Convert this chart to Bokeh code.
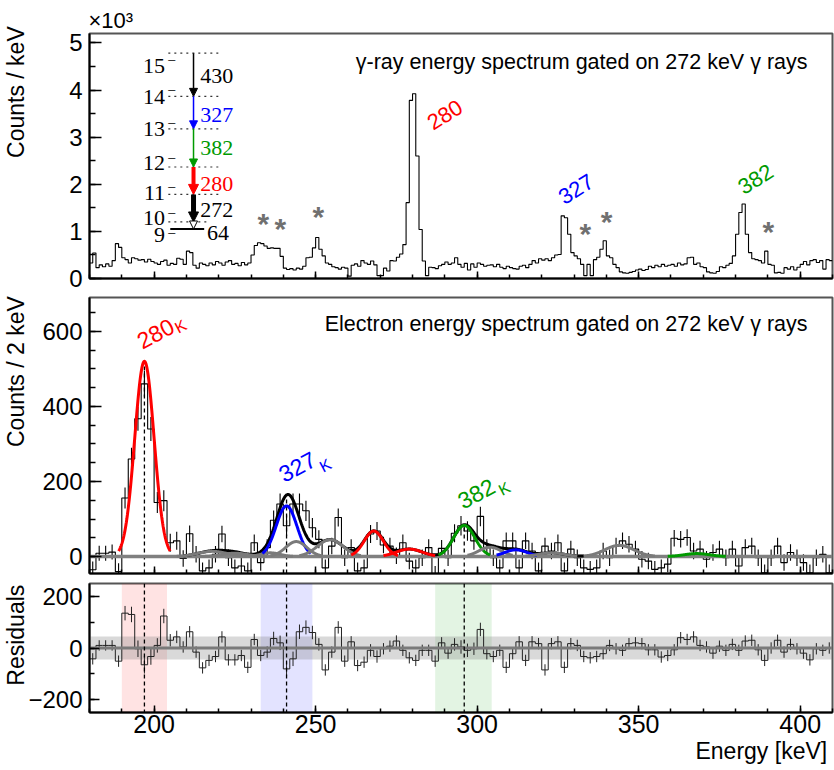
import numpy as np
from bokeh.plotting import figure
from bokeh.layouts import column
from bokeh.models import (Label, Arrow, NormalHead, BoxAnnotation, Range1d, Span,
                          SingleIntervalTicker)
from bokeh.embed import file_html
from bokeh.resources import INLINE

# ---------------------------------------------------------------- data
X_MIN, X_MAX = 180, 410
GAMMA_BIN = 1      # keV per bin, top spectrum
E_BIN = 2          # keV per bin, electron spectrum

# gamma-ray spectrum gated on 272 keV (counts / keV), bins start at 180 keV
gamma_counts = [
    330, 540, 230, 290, 250, 310, 260, 380, 740, 660,
    440, 400, 330, 440, 420, 390, 400, 350, 410, 360,
    330, 300, 360, 390, 280, 320, 300, 430, 410, 300,
    580, 550, 280, 220, 330, 300, 270, 330, 290, 360,
    330, 280, 350, 380, 300, 320, 270, 340, 290, 330,
    500, 700, 760, 740, 690, 640, 650, 640, 640, 470,
    220, 190, 210, 180, 220, 200, 260, 440, 450, 650,
    870, 620, 480, 330, 300, 250, 230, 200, 240, 220,
    50, 280, 310, 260, 380, 330, 300, 370, 290, 60,
    60, 220, 160, 380, 370, 450, 520, 720, 1610, 3780,
    3920, 2600, 1040, 370, 60, 240, 230, 210, 270, 300,
    350, 300, 330, 440, 300, 240, 320, 180, 310, 240,
    330, 300, 260, 280, 290, 250, 300, 240, 210, 260,
    230, 210, 200, 260, 280, 230, 300, 380, 330, 420,
    390, 420, 380, 440, 500, 510, 1330, 1290, 940, 550,
    480, 420, 300, 60, 300, 60, 400, 450, 620, 800,
    480, 440, 300, 230, 140, 120, 110, 130, 150, 180,
    200, 170, 190, 260, 230, 280, 250, 300, 260, 280,
    300, 260, 330, 290, 310, 440, 450, 300, 330, 250,
    230, 140, 120, 110, 150, 250, 230, 280, 320, 480,
    940, 1400, 1580, 940, 550, 420, 400, 380, 330, 580,
    300, 280, 120, 130, 110, 230, 200, 250, 180, 240,
    300, 360, 290, 380, 400, 340, 380, 200, 400, 380,
]

# electron spectrum gated on 272 keV (counts / 2 keV), bins start at 180 keV
electron_counts = [
    -35, 9, 9, 12, -40, 156, 260, 367, 460, 340,
    144, 149, 37, 42, -5, 61, 6, -38, -30, 6,
    60, -3, -30, -25, -38, 37, -16, 24, 97, 140,
    82, 140, 140, 122, 77, 46, -30, 28, 104, -3,
    24, -38, -30, 60, 68, 31, 28, 2, 37, -12,
    -30, -3, 24, -47, 22, -3, 62, 82, 68, 42,
    107, 24, -3, -30, 42, 42, -30, 42, 15, -38,
    28, 15, 37, -38, 20, -3, -30, -34, -30, 15,
    -3, 28, 42, 33, 20, -7, -12, -34, -30, -20,
    49, 46, 51, 15, 20, -7, 11, 20, -3, 20,
    -25, 24, 28, -3, -43, -3, 28, -16, 11, -3,
    -16, -43, -3, 6, -43,
]
electron_err = [
    22, 20, 20, 20, 22, 28, 30, 32, 34, 32,
    28, 28, 24, 24, 22, 22, 22, 22, 22, 22,
    22, 22, 22, 22, 22, 22, 22, 22, 26, 28,
    28, 28, 28, 27, 26, 24, 22, 22, 24, 22,
    22, 22, 22, 24, 24, 22, 22, 22, 22, 22,
    22, 22, 22, 22, 22, 22, 24, 26, 26, 24,
    26, 22, 22, 22, 22, 22, 22, 22, 22, 22,
    22, 22, 22, 22, 22, 22, 22, 22, 22, 22,
    22, 22, 22, 22, 22, 22, 22, 22, 22, 22,
    22, 22, 22, 22, 22, 22, 22, 22, 22, 22,
    22, 22, 22, 22, 22, 22, 22, 22, 22, 22,
    22, 22, 22, 22, 22,
]
residuals = [
    -42, 10, 10, 10, -51, 135, 130, -3, -65, -33,
    10, 124, 30, 43, 4, 63, -16, -77, -48, -33,
    43, -46, -46, -29, -75, 33, -29, -16, 37, 20,
    -81, -42, 63, 80, 60, 14, -85, -16, 80, -51,
    24, -68, -55, -9, -33, -3, 7, 27, -9, -38,
    -48, -9, -9, -51, 20, -20, 14, 4, -9, -3,
    72, -22, -33, -9, -75, -22, 24, -48, 24, 17,
    -85, 17, 24, -75, 17, 10, -33, -38, -33, -22,
    10, -3, -9, 17, 20, 17, -7, -7, -35, -29,
    -7, 40, 33, 43, 10, 4, -20, 7, -9, 14,
    -9, 27, 30, -7, -48, 0, 30, -16, 14, -3,
    -20, -46, -3, -9, 0,
]

RED, BLUE, GREEN, GRAY, BLACK = "#ff0000", "#0000ff", "#009a00", "#7a7a7a", "#000000"

# Gaussian fit components of the electron spectrum
fit_center = [197, 218, 225, 236, 241, 244, 254.5, 268, 279, 296, 304, 312, 323, 344, 368]
fit_amp    = [520, 14, 9, 10, 135, 40, 45, 68, 20, 83, 25, 18, 10, 30, 8]
fit_sigma  = [3.0, 4.5, 4.0, 3.0, 3.2, 3.3, 4.0, 3.0, 4.0, 3.3, 3.5, 3.5, 4.0, 4.5, 4.0]
fit_lo     = [189, 207, 214, 229, 233.5, 236, 245, 261, 271, 288, 297, 306, 315, 333, 359]
fit_hi     = [205, 229, 235, 243, 248.5, 252, 264, 275.5, 287, 304, 311, 318.5, 331, 355, 377]
fit_color  = [RED, GRAY, GRAY, GRAY, BLUE, GRAY, GRAY, RED, RED, GREEN, GRAY, BLUE, GRAY, GRAY, GREEN]
total_lo, total_hi = 209, 333

# K-conversion lines
k_line_x   = [197, 241, 296]
k_line_top = [522, 158, 85]
k_labels   = ["280", "327", "382"]
k_colors   = [RED, BLUE, GREEN]
k_label_x  = [200.4, 244.3, 299.7]
k_label_y  = [595, 240, 169]
k_sub_x    = [208.2, 253.0, 308.4]
k_sub_y    = [613, 243, 181]
band_lo    = [190, 233, 287]
band_hi    = [204, 249, 304.5]
resid_band = 45

# gamma peak labels
g_labels  = ["280", "327", "382"]
g_label_x = [290.0, 330.6, 386.2]
g_label_y = [3475, 1898, 2111]
star_x = [233.8, 239.1, 250.8, 333.5, 340.1, 390.1]
star_y = [1215, 1109, 1365, 1002, 1252, 1038]

# level scheme inset (placed in the top panel's coordinates)
level_names   = ["15", "14", "13", "12", "11", "10", "9"]
level_y       = [4782, 3866, 3177, 2367, 1785, 1200, 1051]
level_label_y = [4520, 3844, 3170, 2458, 1819, 1286, 932]
level_minus_y = [4641, 4002, 3311, 2565, 1947, 1407, 980]
level_x0      = [204.4, 204.4, 204.4, 204.4, 204.4, 204.4, 205.0]
level_x1      = [219.9, 219.9, 219.9, 219.9, 219.9, 216.4, 215.5]
trans_labels  = ["430", "327", "382", "280", "272", "64"]
trans_colors  = [BLACK, BLUE, GREEN, RED, BLACK, BLACK]
trans_widths  = [1.5, 1.5, 1.5, 4, 5, 1.5]
trans_label_x = [214.3, 214.3, 214.3, 214.3, 214.3, 216.4]
trans_label_y = [4307, 3475, 2778, 2010, 1450, 966]
arrow_x = 212.2

SANS = "Liberation Sans"
SERIF = "Liberation Serif"
NB = "\u00a0"
W = 834
xr = Range1d(X_MIN, X_MAX)


def make_fig(height, ymin, ymax, btop, bbot, show_x_labels=False, title=None):
    p = figure(width=W, height=height, x_range=xr, y_range=Range1d(ymin, ymax),
               output_backend="svg", toolbar_location=None, title=title,
               min_border_left=89, min_border_right=2,
               min_border_top=btop, min_border_bottom=bbot)
    p.xgrid.visible = False
    p.ygrid.visible = False
    p.outline_line_color = "#555555"
    p.outline_line_width = 2
    for ax in (p.xaxis[0], p.yaxis[0]):
        ax.axis_line_color = "black"
        ax.axis_line_width = 2
        ax.major_tick_out = 0
        ax.minor_tick_out = 0
        ax.major_tick_line_width = 1.5
        ax.minor_tick_line_width = 1.5
        ax.major_label_text_font = SANS
        ax.major_label_text_font_size = "24px"
        ax.major_label_text_color = "black"
        ax.axis_label_text_font = SANS
        ax.axis_label_text_font_size = "23px"
        ax.axis_label_text_font_style = "normal"
        ax.axis_label_text_color = "black"
    p.xaxis.ticker = SingleIntervalTicker(interval=50, num_minor_ticks=5)
    p.xaxis.major_tick_in = 7
    p.xaxis.minor_tick_in = 4
    if show_x_labels:
        p.xaxis.major_label_standoff = 2
        p.xaxis.major_label_text_font_size = "25px"
    else:
        p.xaxis.major_label_text_font_size = "0px"
        p.xaxis.major_label_standoff = 0
        p.xaxis.major_label_overrides = {v: "" for v in range(200, 401, 50)}
    p.yaxis.major_tick_in = 12
    p.yaxis.minor_tick_in = 6
    p.yaxis.major_label_standoff = 7
    return p


def hist_step(p, start, width, vals, color, lw=1.0):
    edges = start + width * np.arange(len(vals) + 1)
    p.step(x=edges, y=list(vals) + [vals[-1]], mode="after", line_color=color, line_width=lw)
    return edges


# ---------------------------------------------------------------- top panel
p1 = make_fig(292, 0, 5200, 33, 14, title="×10³")
p1.title.align = "left"
p1.title.offset = -1
p1.title.standoff = 2
p1.title.text_font = SANS
p1.title.text_font_size = "22px"
p1.title.text_font_style = "normal"
p1.title.text_color = "black"
p1.yaxis.ticker = SingleIntervalTicker(interval=1000, num_minor_ticks=2)
p1.yaxis.major_label_overrides = {v: str(v // 1000) for v in range(0, 5001, 1000)}
p1.yaxis.axis_label = NB * 20 + "Counts / keV"
p1.yaxis.axis_label_standoff = 37
hist_step(p1, X_MIN, GAMMA_BIN, gamma_counts, "black", 1.1)
p1.add_layout(Label(x=X_MAX, y=4590, x_offset=-25, text="γ-ray energy spectrum gated on 272 keV γ rays",
                    text_align="right", text_baseline="middle", text_font=SANS,
                    text_font_size="21.5px", text_color="black"))
for t, x, y, c in zip(g_labels, g_label_x, g_label_y, k_colors):
    p1.add_layout(Label(x=x, y=y, text=t, angle=32, angle_units="deg", text_align="center",
                        text_baseline="middle", text_font=SANS, text_font_size="22px", text_color=c))
for x, y in zip(star_x, star_y):
    p1.add_layout(Label(x=x, y=y, y_offset=-2, text="*", text_align="center", text_baseline="middle",
                        text_font=SANS, text_font_size="30px", text_font_style="bold", text_color="#707070"))

# level scheme
p1.segment(x0=level_x0[:6], x1=level_x1[:6], y0=level_y[:6], y1=level_y[:6],
           line_color="#333333", line_width=1.2, line_dash="dotted")
p1.segment(x0=level_x0[6:], x1=level_x1[6:], y0=level_y[6:], y1=level_y[6:],
           line_color="black", line_width=2)
for name, ly, my in zip(level_names, level_label_y, level_minus_y):
    p1.add_layout(Label(x=203.4, y=ly, text=name, text_align="right", text_baseline="middle",
                        text_font=SERIF, text_font_size="22px", text_color="black"))
    p1.add_layout(Label(x=204.4, y=my, text="–", text_align="left", text_baseline="middle",
                        text_font=SERIF, text_font_size="14px", text_color="black"))
for i, (t, c, w) in enumerate(zip(trans_labels, trans_colors, trans_widths)):
    head = NormalHead(size=8 if w < 3 else 10, fill_color=c if i < 5 else "white",
                      line_color=c, line_width=1)
    p1.add_layout(Arrow(end=head, x_start=arrow_x, y_start=level_y[i], x_end=arrow_x,
                        y_end=level_y[i + 1], line_color=c, line_width=w))
    p1.add_layout(Label(x=trans_label_x[i], y=trans_label_y[i], text=t, text_align="left",
                        text_baseline="middle", text_font=SERIF, text_font_size="22px", text_color=c))

# ---------------------------------------------------------------- middle panel
p2 = make_fig(286, -45, 690, 5, 5)
p2.yaxis.ticker = SingleIntervalTicker(interval=200, num_minor_ticks=4)
p2.yaxis.axis_label = NB * 20 + "Counts / 2 keV"
p2.yaxis.axis_label_standoff = 10
edges = hist_step(p2, X_MIN, E_BIN, electron_counts, "black", 1.1)
centers = (edges[:-1] + edges[1:]) / 2
ec = np.array(electron_counts, dtype=float)
ee = np.array(electron_err, dtype=float)
p2.segment(x0=centers, x1=centers, y0=ec - ee, y1=ec + ee, line_color="black", line_width=1.1)
p2.segment(x0=k_line_x, x1=k_line_x, y0=[-45] * 3, y1=k_line_top, line_color="black",
           line_width=1.3, line_dash="4 3")
p2.line([X_MIN, X_MAX], [0, 0], line_color="#808080", line_width=3.5)

xt = np.linspace(total_lo, total_hi, 600)
total = np.zeros_like(xt)
for c, a, s in zip(fit_center, fit_amp, fit_sigma):
    total += a * np.exp(-0.5 * ((xt - c) / s) ** 2)
p2.line(xt, total, line_color="black", line_width=3)
for c, a, s, lo, hi, col in zip(fit_center, fit_amp, fit_sigma, fit_lo, fit_hi, fit_color):
    xx = np.linspace(lo, hi, 200)
    p2.line(xx, a * np.exp(-0.5 * ((xx - c) / s) ** 2), line_color=col, line_width=3)

p2.add_layout(Label(x=X_MAX, y=620, x_offset=-25, text="Electron energy spectrum gated on 272 keV γ rays",
                    text_align="right", text_baseline="middle", text_font=SANS,
                    text_font_size="21.5px", text_color="black"))
for t, x, y, sx, sy, c in zip(k_labels, k_label_x, k_label_y, k_sub_x, k_sub_y, k_colors):
    p2.add_layout(Label(x=x, y=y, text=t, angle=28, angle_units="deg", text_align="center",
                        text_baseline="middle", text_font=SANS, text_font_size="23px", text_color=c))
    p2.add_layout(Label(x=sx, y=sy, text="K", angle=28, angle_units="deg", text_align="center",
                        text_baseline="middle", text_font=SANS, text_font_size="16px", text_color=c))

# ---------------------------------------------------------------- residual panel
p3 = make_fig(191, -250, 250, 5, 57, show_x_labels=True)
p3.yaxis.ticker = SingleIntervalTicker(interval=200, num_minor_ticks=2)
p3.yaxis.major_label_overrides = {-200: "−200", 0: "0", 200: "200"}
p3.yaxis.major_tick_in = 10
p3.yaxis.minor_tick_in = 5
p3.yaxis.axis_label = NB * 4 + "Residuals"
p3.yaxis.axis_label_standoff = -4
p3.xaxis.axis_label = NB * 94 + "Energy [keV]"
p3.xaxis.axis_label_standoff = 2
for lo, hi, c in zip(band_lo, band_hi, k_colors):
    p3.add_layout(BoxAnnotation(left=lo, right=hi, fill_color=c, fill_alpha=0.11,
                                line_alpha=0, level="underlay"))
p3.add_layout(BoxAnnotation(bottom=-resid_band, top=resid_band, fill_color="#808080",
                            fill_alpha=0.3, line_alpha=0, level="underlay"))
hist_step(p3, X_MIN, E_BIN, residuals, "#222222", 1.0)
rr = np.array(residuals, dtype=float)
p3.segment(x0=centers, x1=centers, y0=rr - ee, y1=rr + ee, line_color="#222222", line_width=1.0)
p3.line([X_MIN, X_MAX], [0, 0], line_color="#7a7a7a", line_width=3)
for x in k_line_x:
    p3.add_layout(Span(location=x, dimension="height", line_color="black", line_width=1.3,
                       line_dash="4 3"))

layout = column(p1, p2, p3, spacing=0)
open("out.html", "w").write(file_html(layout, INLINE))
